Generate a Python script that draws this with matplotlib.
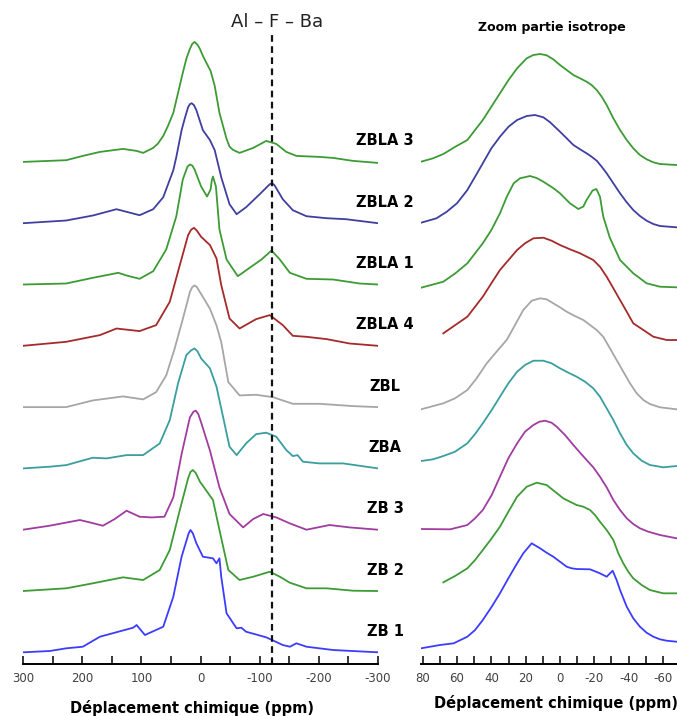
import matplotlib
matplotlib.use('Agg')
import matplotlib.pyplot as plt

# 19F NMR spectra, full range (ppm, intensity a.u.)
zb1_ppm = [300, 255, 227, 199, 170, 114, 108, 94, 63, 46, 32, 20, 17, 13, 7, -4, -21, -27, -32, -35, -44,
           -61, -69, -77, -111, -139, -151, -162, -179, -224, -300]
zb1_int = [0, 1.3, 4, 5.6, 15.6, 24.6, 27.3, 17.3, 25.6, 55.6, 95.6, 119, 122.3, 119, 109, 95.6, 94, 89, 94, 75.6, 39,
           24, 24.6, 20.6, 15, 7.3, 5.6, 9, 5.6, 2.3, 0]
zb2_ppm = [300, 227, 182, 131, 97, 69, 52, 35, 21, 17, 13, 8, 1, -13, -21, -32, -47, -66, -89, -117, -134,
           -151, -179, -213, -258, -300]
zb2_int = [0, 2.7, 7.7, 13.7, 11, 21, 41, 81, 112.7, 119, 121, 118, 109.3, 97.7, 91, 61, 21, 11, 14.3, 19.3, 14.3,
           8.3, 2.7, 2.7, 0.3, 0]
zb3_ppm = [300, 255, 204, 187, 165, 145, 125, 103, 83, 61, 46, 32, 18, 12, 8, 4, -1, -16, -32, -49, -72, -89,
           -106, -128, -151, -179, -218, -252, -300]
zb3_int = [0, 4, 9.7, 7.3, 4, 10.7, 19, 13, 12.3, 13, 32.3, 75.7, 112.3, 118, 119, 116, 107.3, 79, 42.3, 15.7, 2.3,
           10.7, 15.7, 12.3, 6.3, 0, 4.7, 2.3, 0]
zba_ppm = [300, 255, 227, 182, 159, 125, 97, 69, 52, 38, 24, 16, 10, 5, -1, -16, -27, -38, -49, -61, -77, -94,
           -111, -128, -145, -156, -164, -173, -201, -241, -300]
zba_int = [0, 1.7, 3.3, 10.7, 10, 13.3, 13.3, 25, 48.3, 85, 113.3, 118, 120, 117, 110, 100, 81.7, 51.7, 21.7, 13.3,
           25, 34.3, 35.7, 31.7, 18.3, 12.3, 13.3, 6.7, 5, 5, 0]
zbl_ppm = [300, 227, 182, 131, 97, 75, 58, 44, 30, 18, 14, 10, 6, 1, -16, -27, -35, -47, -66, -94, -122,
           -156, -201, -258, -300]
zbl_int = [0, 0, 6.7, 10.7, 7.7, 15, 31.7, 58, 88, 115, 120, 121.7, 120, 115, 98.3, 81.7, 65, 25, 11.7, 12.3, 10,
           3.3, 3.3, 1, 0]
zbla4_ppm = [300, 227, 170, 142, 103, 75, 52, 35, 21, 16, 11, 6, -1, -16, -27, -35, -49, -66, -94, -117, -139,
             -156, -179, -213, -252, -300]
zbla4_int = [0, 4, 10.7, 17.3, 14.7, 20.7, 44, 80.7, 110.7, 116, 118, 115, 109, 100.7, 87.3, 60.7, 27.3, 17.3, 26.7,
             30.7, 20.7, 10, 9, 6.7, 2.3, 0]
zbla1_ppm = [300, 227, 182, 139, 125, 103, 80, 58, 41, 35, 30, 22, 18, 14, 10, -1, -11, -17, -19, -21, -23, -26,
             -32, -44, -63, -83, -103, -120, -134, -151, -179, -224, -269, -300]
zbla1_int = [0, 1, 6.7, 11.7, 9, 5.7, 13.3, 35, 68, 88, 105, 118, 120, 119, 115, 98, 88, 95, 104, 108, 104, 98,
             55, 25, 8.3, 16.7, 25, 34, 25, 11.7, 5.7, 5, 1, 0]
zbla2_ppm = [300, 227, 182, 142, 103, 80, 63, 46, 41, 32, 27, 21, 18, 15, 11, 7, -4, -10, -16, -24, -35, -49,
             -61, -77, -100, -117, -121, -125, -139, -156, -179, -213, -246, -300]
zbla2_int = [0, 2.7, 7.7, 14, 8, 14, 26, 53, 66, 93, 104, 116, 119, 120, 118, 113, 93, 88, 83, 73, 46, 19,
             9, 16, 29, 39, 40, 38, 24, 13, 7, 5, 4, 0]
zbla3_ppm = [300, 227, 199, 170, 131, 108, 97, 80, 72, 63, 55, 46, 38, 30, 24, 18, 14, 10, 5, 1, -4, -10, -17,
             -24, -32, -44, -49, -55, -66, -89, -111, -128, -145, -162, -201, -224, -258, -300]
zbla3_int = [0, 1.7, 6, 10, 13, 11, 9, 14, 18.3, 26, 36, 49, 69, 89, 103, 113, 118, 120, 117, 113, 106, 99, 91,
             76, 49, 23, 15.3, 12, 9, 14, 21, 18, 10, 6, 5, 4, 1, -1]

# isotropic part, zoomed
zb1_z_ppm = [81, 70, 62, 54, 49.5, 45, 39.8, 35, 30.1, 25, 21.4, 16.5, 11.6, 7.8, 3.9, 0, -3.9, -6.8, -9.7,
             -17.5, -23.3, -27.2, -30.7, -33, -35, -38.9, -42.7, -46.6, -50.5, -54.4, -58.3, -62.2, -68]
zb1_z_int = [4, 7.3, 9, 15.6, 22.3, 32.3, 45.6, 59, 74, 89, 99, 109, 104, 99.6, 95.6, 90.6, 85.6, 84, 83.3,
             83, 79, 75.6, 81.6, 72.3, 62.3, 45.6, 34, 25.6, 19.6, 15.6, 13, 11.6, 10.6]
zb2_z_ppm = [68, 61.2, 54, 49.5, 45, 39.8, 35, 30.1, 25, 19.4, 13.6, 7.8, 2.9, -1.9, -5.8, -9.7, -13.6, -17.5,
             -20.4, -23.3, -27.2, -31.1, -34, -36.9, -39.8, -42.7, -47.6, -52.4, -60.2, -68]
zb2_z_int = [8.7, 15, 22.7, 31, 41, 52.7, 64.3, 79.3, 94.3, 104.3, 108.3, 106, 99.3, 92.7, 89.3, 86, 84.3, 81,
             76, 69.3, 61, 51, 37.7, 27.7, 19.3, 12.7, 6, 1, -2.3, -2.3]
zb3_z_ppm = [81, 64, 54, 49.5, 45, 39.8, 35, 30.1, 25, 20.4, 15.5, 12, 8.7, 4.9, 1.9, -2.9, -7.8, -11.7, -15.5,
             -19.4, -23.3, -27.2, -31.1, -35, -38.9, -42.7, -46.6, -51.5, -58.3, -68]
zb3_z_int = [0.7, 0.4, 4.7, 11.4, 19.7, 34.7, 53, 71.4, 86.4, 98, 104.7, 108, 109, 107, 103, 94.7, 84.7, 77, 69.7,
             62.4, 53, 42.4, 29.7, 19.7, 11.4, 5.7, 1.4, -2, -5.3, -8.6]
zba_z_ppm = [81, 74, 68, 61.2, 54, 49.5, 45, 39.8, 35, 30.1, 25, 20.4, 15.5, 9.7, 4.9, 0, -4.9, -9.7, -14.6,
             -19.4, -23.3, -27.2, -31.1, -35, -38.9, -42.7, -47.6, -52.4, -60.2, -68]
zba_z_int = [7.4, 9.1, 12.4, 16.7, 25.1, 34.4, 45.1, 58.4, 71.7, 85.1, 96.7, 103.4, 107.7, 107.7, 105.1, 100.1,
             95.7, 91.7, 86.7, 80.1, 71.7, 60.1, 48.4, 35.1, 23.4, 15.1, 7.7, 3.4, 1.1, 2.4]
zbl_z_ppm = [81, 68, 61.2, 54, 48.6, 42.7, 37, 31.1, 26.2, 21.4, 16.5, 11.6, 7.8, 3.9, 0, -3.9, -8.7, -13.6,
             -21.4, -25.2, -29.1, -33, -36.9, -40.8, -44.7, -48.6, -52.4, -58.3, -68]
zbl_z_int = [-2.2, 3.8, 8.8, 17.1, 28.8, 43.8, 55.4, 67.1, 82.1, 97.1, 106.4, 108.8, 107.8, 103.8, 99.8, 95.4,
             91.1, 87.1, 77.1, 70.4, 58.8, 47.1, 35.4, 23.8, 13.8, 7.1, 3.1, -0.2, -2.2]
zbla4_z_ppm = [68, 61, 54, 49.5, 45, 40, 35, 30, 25, 20.4, 15.5, 9.7, 4.9, 0, -5.8, -11.7, -19.4, -23.3, -27.2,
               -31.1, -35, -38.9, -42.7, -48.6, -54.4, -62.2, -68]
zbla4_z_int = [12.5, 20.8, 29.1, 39.1, 49.1, 62.5, 75.8, 85.8, 95.8, 102.5, 107.5, 108.1, 105.1, 100.8, 96.5, 92.5,
               85.8, 79.1, 69.1, 57.5, 45.8, 34.1, 22.5, 15.8, 9.1, 5.8, 5.8]
zbla1_z_ppm = [81, 68, 61, 54, 45, 40, 35, 31, 27, 23.3, 17.5, 13.6, 9.7, 4, 0, -5.8, -10.7, -13.6, -15.5, -19,
               -21.2, -23.3, -25.2, -29, -35, -42.7, -50.5, -58.3, -68]
zbla1_z_int = [-3.2, 2.8, 11.2, 21.2, 41.2, 54.5, 71.2, 87.8, 101.2, 106.2, 108.5, 106.5, 102.8, 96.5, 91.2, 81.2,
               75.5, 78, 84.5, 94, 95.5, 87.8, 68, 47, 24.5, 11.2, 1.2, -2.2, -2.8]
zbla2_z_ppm = [81, 72, 66, 60, 54, 49.5, 45, 40, 35, 30, 25, 19.4, 14.6, 9.7, 5.8, 0, -3.9, -7.8, -11.7, -15.5,
               -18.4, -21.4, -24.3, -27.2, -31.1, -35, -38.9, -42.7, -46.6, -50.5, -54.4, -58.3, -68]
zbla2_z_int = [0.5, 4.9, 11.5, 20, 33.2, 46.5, 59.9, 74.9, 86.5, 96.5, 103.2, 107.2, 108.2, 105.9, 101, 91.5, 84.9,
               78.2, 73.9, 69.9, 66.5, 62.5, 56.5, 49.9, 39.9, 29.9, 20.9, 13.2, 7.2, 2.5, -0.8, -2.8, -4.1]
zbla3_z_ppm = [81, 74, 68, 61, 54, 49.5, 45, 40, 35, 30, 25, 19.4, 15.5, 11.6, 7.8, 3.9, 0, -3.9, -7.8, -11.7,
               -15.5, -18.4, -21.4, -24.3, -27.2, -31.1, -35, -38.9, -42.7, -46.6, -50.5, -54.4, -58.3, -68]
zbla3_z_int = [0.2, 3.6, 7.9, 15.2, 21.9, 31.9, 41.9, 55.2, 68.6, 81.9, 93.6, 103.6, 106.9, 107.9, 106.6, 102.6,
               96.9, 91.9, 86.9, 83.6, 80.2, 76.9, 71.9, 65.2, 56.9, 43.6, 31.9, 21.9, 13.6, 6.9, 2.6, -0.4, -2.1, -3.1]

samples = ['ZB 1', 'ZB 2', 'ZB 3', 'ZBA', 'ZBL', 'ZBLA 4', 'ZBLA 1', 'ZBLA 2', 'ZBLA 3']
colors = ['#3c3cff', '#3d9b35', '#a03ca0', '#3a9e9e', '#a6a6a6', '#a52a2a', '#3d9b35', '#3f3f9f', '#3d9b35']
full = [(zb1_ppm, zb1_int), (zb2_ppm, zb2_int), (zb3_ppm, zb3_int), (zba_ppm, zba_int), (zbl_ppm, zbl_int),
        (zbla4_ppm, zbla4_int), (zbla1_ppm, zbla1_int), (zbla2_ppm, zbla2_int), (zbla3_ppm, zbla3_int)]
zoom = [(zb1_z_ppm, zb1_z_int), (zb2_z_ppm, zb2_z_int), (zb3_z_ppm, zb3_z_int), (zba_z_ppm, zba_z_int),
        (zbl_z_ppm, zbl_z_int), (zbla4_z_ppm, zbla4_z_int), (zbla1_z_ppm, zbla1_z_int),
        (zbla2_z_ppm, zbla2_z_int), (zbla3_z_ppm, zbla3_z_int)]
al_f_ba = -121  # ppm

fig = plt.figure(figsize=(6.77, 7.16), dpi=100)
ax1 = fig.add_axes([0.0340, 0.0726, 0.5244, 0.8827])
ax2 = fig.add_axes([0.6214, 0.0726, 0.3781, 0.8827])

step = 61.3
for i, name in enumerate(samples):
    off = i * step
    x, y = full[i]
    ax1.plot(x, [v + off for v in y], color=colors[i], lw=1.3, solid_joinstyle='round')
    ax1.text(-312, off + 21, name, ha='center', va='center', fontsize=10.5, fontweight='bold')
    x, y = zoom[i]
    ax2.plot(x, [v + off for v in y], color=colors[i], lw=1.3, solid_joinstyle='round')

ax1.axvline(al_f_ba, color='#111111', ls=(0, (3, 2)), lw=1.6)

ax1.set_xlim(300, -300)
t1 = list(range(300, -301, -50))
ax1.set_xticks(t1)
ax1.set_xticklabels([str(t) if t % 100 == 0 else '' for t in t1])
ax2.set_xlim(81.2, -68)
t2 = list(range(80, -61, -10))
ax2.set_xticks(t2)
ax2.set_xticklabels([str(t) if t % 20 == 0 else '' for t in t2])

for ax in (ax1, ax2):
    ax.set_ylim(-11.7, 620.3)
    ax.set_yticks([])
    for s in ['left', 'right', 'top']:
        ax.spines[s].set_visible(False)
    ax.spines['bottom'].set_linewidth(1.4)
    ax.tick_params(axis='x', direction='in', length=5.8, width=1.1, labelsize=8.5,
                   labelcolor='#404040', pad=6)
    ax.patch.set_alpha(0)

fig.text(0.409, 0.969, 'Al – F – Ba', ha='center', va='center', fontsize=13, color='#222222')
fig.text(0.8154, 0.961, 'Zoom partie isotrope', ha='center', va='center', fontsize=9, fontweight='bold')
fig.text(0.2843, 0.0046, 'Déplacement chimique (ppm)', ha='center', va='baseline', fontsize=10.5,
         fontweight='bold')
fig.text(0.822, 0.0107, 'Déplacement chimique (ppm)', ha='center', va='baseline', fontsize=10.5,
         fontweight='bold')

fig.savefig('out.png', dpi=100)
